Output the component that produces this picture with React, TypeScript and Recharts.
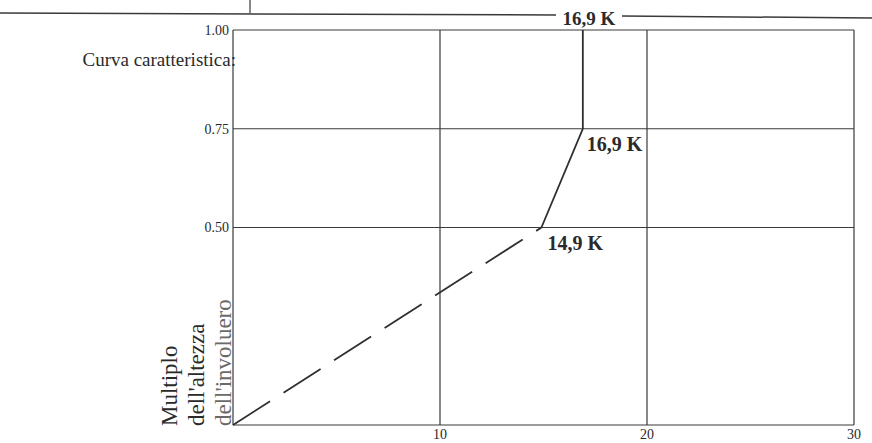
import React from "react";
import { LineChart, Line, XAxis, YAxis, CartesianGrid, LabelList } from "recharts";

const xTicks = [10, 20, 30];
const yTicks = [0.5, 0.75, 1.0];

const dashedX = [0, 14.9];
const dashedY = [0, 0.5];

const solidX = [14.9, 16.9, 16.9];
const solidY = [0.5, 0.75, 1.0];
const solidLabels = ["14,9 K", "16,9 K", ""];

const topLabel = "16,9 K";
const introText = "Curva caratteristica:";
const yLabelLines = ["Multiplo", "dell'altezza", "dell'involuero"];

const dashedData = dashedX.map((x, i) => ({ x, y: dashedY[i] }));
const solidData = solidX.map((x, i) => ({ x, y: solidY[i], label: solidLabels[i] }));

const SERIF = '"Liberation Serif", "Times New Roman", serif';
const INK = "#2a2a2a";

const PointLabel = (props: any) => {
  const { x, y, value, index } = props;
  if (!value) return null;
  const dx = index === 0 ? 6 : 4;
  return (
    <text
      x={x + dx}
      y={y + 22}
      fontFamily={SERIF}
      fontWeight="bold"
      fontSize={20}
      fill={INK}
    >
      {value}
    </text>
  );
};

export default function App() {
  return (
    <div style={{ position: "absolute", left: 0, top: 0, width: 872, height: 443, background: "#fff" }}>
      <LineChart
        width={872}
        height={443}
        margin={{ top: 30, right: 18, bottom: 0, left: 173 }}
      >
        <CartesianGrid
          stroke="#3a3a3a"
          strokeWidth={1.2}
          horizontalValues={yTicks}
          verticalValues={xTicks}
        />
        <XAxis
          type="number"
          dataKey="x"
          domain={[0, 30]}
          ticks={xTicks}
          height={18}
          tickSize={0}
          tickMargin={4}
          axisLine={{ stroke: "#3a3a3a", strokeWidth: 1.2 }}
          tickLine={false}
          tick={{ fontFamily: SERIF, fontSize: 14, fill: INK }}
          allowDuplicatedCategory={false}
        />
        <YAxis
          type="number"
          dataKey="y"
          domain={[0, 1]}
          ticks={yTicks}
          width={60}
          tickSize={0}
          tickMargin={4}
          axisLine={{ stroke: "#3a3a3a", strokeWidth: 1.2 }}
          tickLine={false}
          tick={{ fontFamily: SERIF, fontSize: 14, fill: INK }}
          tickFormatter={(v: number) => v.toFixed(2)}
        />
        <Line
          data={dashedData}
          dataKey="y"
          stroke="#2f2f2f"
          strokeWidth={1.8}
          strokeDasharray="44 16"
          dot={false}
          isAnimationActive={false}
        />
        <Line
          data={solidData}
          dataKey="y"
          stroke="#2f2f2f"
          strokeWidth={1.8}
          dot={false}
          isAnimationActive={false}
        >
          <LabelList dataKey="label" content={PointLabel} />
        </Line>
      </LineChart>
      <svg
        width={872}
        height={443}
        style={{ position: "absolute", left: 0, top: 0, pointerEvents: "none" }}
      >
        <line x1={0} y1={13} x2={556} y2={15} stroke="#3a3a3a" strokeWidth={1.5} />
        <line x1={622} y1={16} x2={872} y2={18} stroke="#3a3a3a" strokeWidth={1.5} />
        <line x1={250} y1={0} x2={250} y2={13} stroke="#3a3a3a" strokeWidth={1.2} />
        <text
          x={589}
          y={25}
          textAnchor="middle"
          fontFamily={SERIF}
          fontWeight="bold"
          fontSize={19}
          fill={INK}
        >
          {topLabel}
        </text>
        <text
          x={236}
          y={66}
          textAnchor="end"
          fontFamily={SERIF}
          fontSize={19}
          fill={INK}
        >
          {introText}
        </text>
        {yLabelLines.map((t, i) => {
          const bx = [177, 204, 231][i];
          const by = 426;
          return (
            <text
              key={t}
              x={bx}
              y={by}
              transform={`rotate(-90, ${bx}, ${by})`}
              fontFamily={SERIF}
              fontSize={23}
              fill={i === 2 ? "#6a6a6a" : INK}
            >
              {t}
            </text>
          );
        })}
      </svg>
    </div>
  );
}
